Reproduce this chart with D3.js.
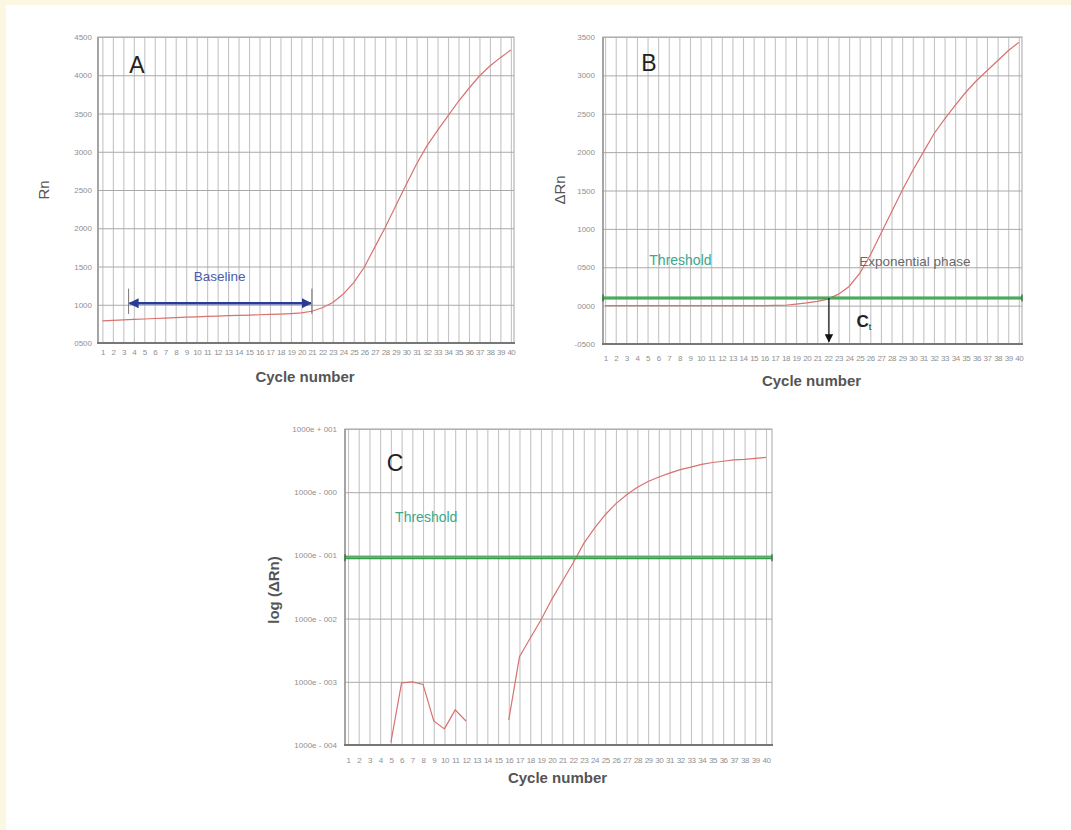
<!DOCTYPE html>
<html>
<head>
<meta charset="utf-8">
<script src="https://cdn.jsdelivr.net/npm/d3@7"></script>
<style>
body { margin: 0; background: #fff; }
svg { display: block; font-family: "Liberation Sans", Arial, sans-serif; }
</style>
</head>
<body>
<svg id="chart" width="1071" height="830"></svg>
<script>
// cycle numbers shared by all three panels
const cycles = [1, 2, 3, 4, 5, 6, 7, 8, 9, 10, 11, 12, 13, 14, 15, 16, 17, 18, 19, 20,
    21, 22, 23, 24, 25, 26, 27, 28, 29, 30, 31, 32, 33, 34, 35, 36, 37, 38, 39, 40];

// panel A: raw reporter signal
const rnValues = [790, 796, 802, 808, 814, 820, 826, 832, 837, 842, 847, 852, 857, 861, 865, 869,
    873, 878, 885, 895, 915, 960, 1030, 1140, 1290, 1490, 1750, 2010, 2290, 2570, 2840, 3080,
    3280, 3470, 3660, 3830, 3990, 4120, 4230, 4330];
const rnTicks = [500, 1000, 1500, 2000, 2500, 3000, 3500, 4000, 4500];
const rnTickLabels = ['0500', '1000', '1500', '2000', '2500', '3000', '3500', '4000', '4500'];
const baselineRange = [3.5, 21];
const baselineLevel = 1020;

// panel B: baseline-corrected signal
const deltaRnValues = [0, 0, 0, 0, 0, 0, 0, 0, 0, 0, 0, 0, 0, 0, 0, 0, 2, 5, 20, 35, 55, 85,
    150, 250, 420, 660, 940, 1220, 1500, 1760, 2000, 2240, 2430, 2610, 2780, 2930, 3060,
    3190, 3320, 3430];
const deltaRnTicks = [-500, 0, 500, 1000, 1500, 2000, 2500, 3000, 3500];
const deltaRnTickLabels = ['-0500', '0000', '0500', '1000', '1500', '2000', '2500', '3000', '3500'];
const thresholdB = 100;
const ctCycle = 22.1;

// panel C: log scale (missing where the signal is zero or negative)
const logValues = [null, null, null, null, 1.1e-4, 9.6e-4, 1.0e-3, 9.1e-4, 2.4e-4, 1.8e-4,
    3.6e-4, 2.4e-4, null, null, null, 2.5e-4, 2.5e-3, 4.9e-3, 9.5e-3, 0.020, 0.039, 0.076,
    0.155, 0.27, 0.44, 0.66, 0.91, 1.2, 1.48, 1.74, 2.0, 2.28, 2.5, 2.75, 2.95, 3.09, 3.24,
    3.31, 3.43, 3.55];
const logTicks = [1e-4, 1e-3, 1e-2, 1e-1, 1, 10];
const logTickLabels = ['1000e - 004', '1000e - 003', '1000e - 002', '1000e - 001', '1000e - 000', '1000e + 001'];
const thresholdC = 0.092;

const svg = d3.select('#chart');

// cream frame strips
svg.append('rect').attr('x', 0).attr('y', 0).attr('width', 1071).attr('height', 5).attr('fill', '#fcf7e2');
svg.append('rect').attr('x', 0).attr('y', 0).attr('width', 6).attr('height', 830).attr('fill', '#fcf7e2');

const curveColor = '#d9716f';
const greenLine = '#2f9a44';

function drawPanel(opt) {
    const g = svg.append('g').attr('transform', `translate(${opt.left},${opt.top})`);
    const w = opt.width, h = opt.height;
    const x = d3.scaleLinear().domain(opt.xDomain).range([0, w]);
    const y = opt.yScale.range([h, 0]);

    // vertical grid, one line per cycle
    g.append('g')
        .call(d3.axisBottom(x).tickValues(cycles).tickSize(-h).tickFormat(''))
        .attr('transform', `translate(0,${h})`)
        .call(s => s.select('.domain').remove())
        .call(s => s.selectAll('line').attr('stroke', '#c4c4c4').attr('stroke-width', 1.1));

    // horizontal grid
    g.append('g')
        .call(d3.axisLeft(y).tickValues(opt.yTicks).tickSize(-w).tickFormat(''))
        .call(s => s.select('.domain').remove())
        .call(s => s.selectAll('line').attr('stroke', '#a9a9a9').attr('stroke-width', 1));

    // frame
    g.append('rect').attr('width', w).attr('height', h)
        .attr('fill', 'none').attr('stroke', '#b5b5b5').attr('stroke-width', 1.2);
    g.append('line').attr('x1', 0).attr('x2', 0).attr('y1', 0).attr('y2', h)
        .attr('stroke', '#9a9a9a').attr('stroke-width', 1.6);
    g.append('line').attr('x1', -1).attr('x2', w + 1).attr('y1', h).attr('y2', h)
        .attr('stroke', '#777').attr('stroke-width', 2.2);

    // tick labels
    g.append('g')
        .call(d3.axisLeft(y).tickValues(opt.yTicks).tickSize(0).tickPadding(opt.yPad)
            .tickFormat((d, i) => opt.yLabels[i]))
        .call(s => s.select('.domain').remove())
        .call(s => s.selectAll('text').attr('fill', '#8f8f8f').style('font-size', '8px')
            .style('font-family', '"Liberation Sans", Arial, sans-serif'));

    g.append('g')
        .attr('transform', `translate(0,${h})`)
        .call(d3.axisBottom(x).tickValues(cycles).tickSize(0).tickPadding(opt.xPad))
        .call(s => s.select('.domain').remove())
        .call(s => s.selectAll('text').attr('fill', '#8f8f8f').style('font-size', '8px')
            .style('letter-spacing', '-0.5px')
            .style('font-family', '"Liberation Sans", Arial, sans-serif'));

    // axis titles
    svg.append('text')
        .attr('x', opt.left + w / 2 + opt.xTitleShift).attr('y', opt.top + h + opt.xTitleGap)
        .attr('text-anchor', 'middle').attr('fill', '#555')
        .style('font-size', '15px').style('font-weight', 'bold')
        .text('Cycle number');
    svg.append('text')
        .attr('transform', `translate(${opt.yTitlePos[0]},${opt.yTitlePos[1]}) rotate(-90)`)
        .attr('text-anchor', 'middle').attr('dominant-baseline', 'middle').attr('fill', '#555')
        .style('font-size', opt.yTitleSize).style('font-weight', opt.yTitleWeight)
        .text(opt.yTitle);

    // panel letter
    g.append('text')
        .attr('x', opt.letterPos[0]).attr('y', opt.letterPos[1])
        .attr('text-anchor', 'middle').attr('dominant-baseline', 'middle')
        .attr('fill', '#222').style('font-size', '23px')
        .text(opt.letter);

    // clip for the curve
    const clipId = 'clip' + opt.letter;
    g.append('clipPath').attr('id', clipId)
        .append('rect').attr('width', w).attr('height', h);

    const line = d3.line()
        .defined(d => d[1] != null)
        .x(d => x(d[0]))
        .y(d => y(d[1]));
    g.append('path')
        .datum(cycles.map((c, i) => [c, opt.values[i]]))
        .attr('clip-path', `url(#${clipId})`)
        .attr('d', line)
        .attr('fill', 'none')
        .attr('stroke', curveColor)
        .attr('stroke-width', 1.2);

    return { g, x, y, w, h };
}

function drawThreshold(p, value, labelCycle, labelValue) {
    const ty = p.y(value);
    p.g.append('line').attr('x1', 0).attr('x2', p.w).attr('y1', ty).attr('y2', ty)
        .attr('stroke', greenLine).attr('stroke-width', 3);
    p.g.append('line').attr('x1', 0).attr('x2', p.w).attr('y1', ty).attr('y2', ty)
        .attr('stroke', '#8fd09a').attr('stroke-width', 0.6);
    [0, p.w].forEach(xx => {
        p.g.append('line').attr('x1', xx).attr('x2', xx).attr('y1', ty - 3.5).attr('y2', ty + 3.5)
            .attr('stroke', '#2d6f3a').attr('stroke-width', 1.3);
    });
    p.g.append('text')
        .attr('x', p.x(labelCycle)).attr('y', p.y(labelValue))
        .attr('text-anchor', 'middle').attr('dominant-baseline', 'middle')
        .attr('fill', '#3aa88a').style('font-size', '14px')
        .text('Threshold');
}

// ---------- panel A ----------
const pA = drawPanel({
    letter: 'A', left: 98, top: 37, width: 416, height: 306,
    xDomain: [0.58, 40.3],
    yScale: d3.scaleLinear().domain([500, 4500]),
    yTicks: rnTicks, yLabels: rnTickLabels, yPad: 6, xPad: 6,
    values: rnValues,
    yTitle: 'Rn', yTitlePos: [45, 190], yTitleSize: '15px', yTitleWeight: 'normal',
    xTitleShift: -1, xTitleGap: 39,
    letterPos: [39, 30]
});

// baseline arrow
const defs = svg.append('defs');
defs.append('marker').attr('id', 'blueHead')
    .attr('viewBox', '0 0 10 10').attr('refX', 9).attr('refY', 5)
    .attr('markerWidth', 4.2).attr('markerHeight', 4.2).attr('orient', 'auto-start-reverse')
    .append('path').attr('d', 'M0,0 L10,5 L0,10 z').attr('fill', '#2b3a94');
defs.append('marker').attr('id', 'blackHead')
    .attr('viewBox', '0 0 10 10').attr('refX', 9).attr('refY', 5)
    .attr('markerWidth', 7).attr('markerHeight', 7).attr('orient', 'auto')
    .append('path').attr('d', 'M0,0 L10,5 L0,10 z').attr('fill', '#111');

const blY = pA.y(baselineLevel);
pA.g.append('line')
    .attr('x1', pA.x(baselineRange[0]) + 1).attr('x2', pA.x(baselineRange[1]) - 1)
    .attr('y1', blY).attr('y2', blY)
    .attr('stroke', '#2b3a94').attr('stroke-width', 2.4)
    .attr('marker-start', 'url(#blueHead)').attr('marker-end', 'url(#blueHead)');
baselineRange.forEach(c => {
    pA.g.append('line').attr('x1', pA.x(c)).attr('x2', pA.x(c))
        .attr('y1', pA.y(1210)).attr('y2', pA.y(880))
        .attr('stroke', '#555').attr('stroke-width', 0.8);
});
pA.g.append('text')
    .attr('x', pA.x(12.2)).attr('y', pA.y(1360))
    .attr('text-anchor', 'middle').attr('dominant-baseline', 'middle')
    .attr('fill', '#4a5ba8').style('font-size', '13.5px')
    .text('Baseline');

// ---------- panel B ----------
const pB = drawPanel({
    letter: 'B', left: 603, top: 37, width: 419, height: 307,
    xDomain: [0.8, 40.3],
    yScale: d3.scaleLinear().domain([-500, 3500]),
    yTicks: deltaRnTicks, yLabels: deltaRnTickLabels, yPad: 8, xPad: 11,
    values: deltaRnValues,
    yTitle: 'ΔRn', yTitlePos: [561, 190], yTitleSize: '15px', yTitleWeight: 'normal',
    xTitleShift: -1, xTitleGap: 42,
    letterPos: [46, 28]
});
drawThreshold(pB, thresholdB, 8.1, 575);
pB.g.append('text')
    .attr('x', pB.x(30.2)).attr('y', pB.y(560))
    .attr('text-anchor', 'middle').attr('dominant-baseline', 'middle')
    .attr('fill', '#6a6a6a').style('font-size', '13.5px')
    .text('Exponential phase');
pB.g.append('line')
    .attr('x1', pB.x(ctCycle)).attr('x2', pB.x(ctCycle))
    .attr('y1', pB.y(thresholdB)).attr('y2', pB.y(-470))
    .attr('stroke', '#111').attr('stroke-width', 1.2)
    .attr('marker-end', 'url(#blackHead)');
const ct = pB.g.append('text')
    .attr('x', pB.x(24.7)).attr('y', pB.y(-230))
    .attr('dominant-baseline', 'middle').attr('fill', '#222')
    .style('font-size', '17px').style('font-weight', 'bold');
ct.append('tspan').text('C');
ct.append('tspan').attr('dy', 5).style('font-size', '9px').style('font-weight', 'normal').text('t');

// ---------- panel C ----------
const pC = drawPanel({
    letter: 'C', left: 345, top: 429, width: 427, height: 316,
    xDomain: [0.72, 40.56],
    yScale: d3.scaleLog().domain([1e-4, 10]),
    yTicks: logTicks, yLabels: logTickLabels, yPad: 8, xPad: 12,
    values: logValues,
    yTitle: 'log (ΔRn)', yTitlePos: [275, 590], yTitleSize: '15px', yTitleWeight: 'bold',
    xTitleShift: -1, xTitleGap: 38,
    letterPos: [50, 36]
});
drawThreshold(pC, thresholdC, 8.3, 0.39);
</script>
</body>
</html>
